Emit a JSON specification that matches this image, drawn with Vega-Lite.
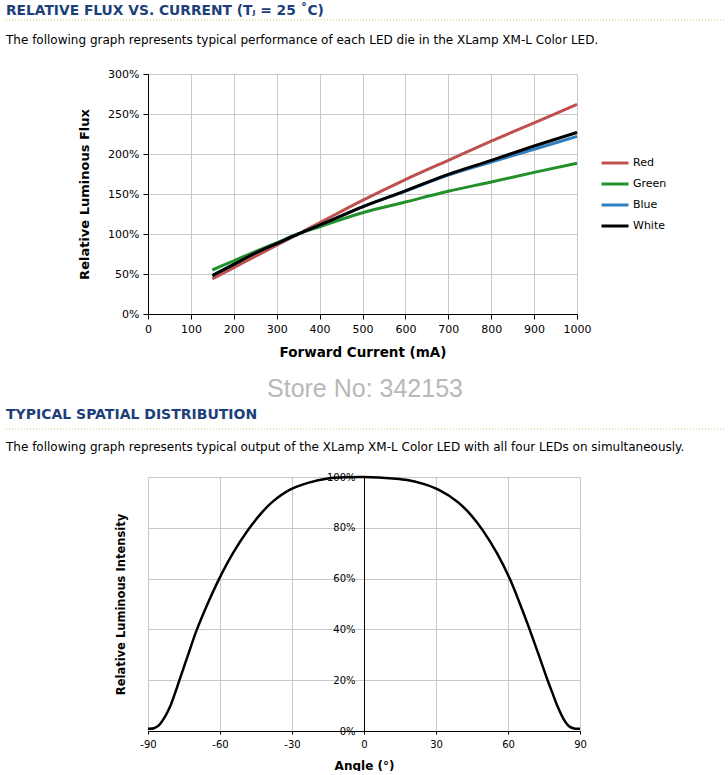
{
  "$schema": "https://vega.github.io/schema/vega-lite/v6.json",
  "background": "white",
  "padding": {"left": 5, "top": 3, "right": 0, "bottom": 0},
  "autosize": {"type": "pad"},
  "config": {
    "font": "DejaVu Sans",
    "view": {"stroke": null},
    "axis": {"labelColor": "#000000", "titleColor": "#000000", "domainColor": "#000000", "tickColor": "#000000", "gridColor": "#c8c8c8", "labelFont": "DejaVu Sans", "titleFont": "DejaVu Sans", "labelFontSize": 11, "titleFontWeight": "bold"}
  },
  "columns": 1,
  "spacing": 5,
  "concat": [
    {
      "width": 718,
      "height": 9,
      "title": {"text": "RELATIVE FLUX VS. CURRENT (Tⱼ = 25 ˚C)", "anchor": "start", "frame": "group", "fontSize": 13.8, "fontWeight": "bold", "color": "#1d3f7a", "font": "DejaVu Sans", "offset": 2},
      "data": {"values": [{"sep": 1}]},
      "mark": {"type": "rule", "color": "#d8c57a", "strokeDash": [1, 2], "strokeWidth": 1},
      "encoding": {"y": {"field": "sep", "type": "quantitative", "scale": {"domain": [0, 1]}, "axis": null}}
    },
    {
      "width": 571,
      "height": 240,
      "title": {"text": "The following graph represents typical performance of each LED die in the XLamp XM-L Color LED.", "anchor": "start", "frame": "group", "fontSize": 12, "fontWeight": "normal", "color": "#000000", "font": "DejaVu Sans", "offset": 21},
      "data": {"values": [
        {"current": 150, "flux": 0.44, "led": "Red"},
        {"current": 200, "flux": 0.58, "led": "Red"},
        {"current": 250, "flux": 0.72, "led": "Red"},
        {"current": 300, "flux": 0.86, "led": "Red"},
        {"current": 350, "flux": 1.00, "led": "Red"},
        {"current": 400, "flux": 1.14, "led": "Red"},
        {"current": 500, "flux": 1.42, "led": "Red"},
        {"current": 600, "flux": 1.68, "led": "Red"},
        {"current": 700, "flux": 1.92, "led": "Red"},
        {"current": 800, "flux": 2.16, "led": "Red"},
        {"current": 900, "flux": 2.39, "led": "Red"},
        {"current": 1000, "flux": 2.62, "led": "Red"},
        {"current": 150, "flux": 0.55, "led": "Green"},
        {"current": 200, "flux": 0.665, "led": "Green"},
        {"current": 250, "flux": 0.78, "led": "Green"},
        {"current": 300, "flux": 0.89, "led": "Green"},
        {"current": 350, "flux": 1.00, "led": "Green"},
        {"current": 400, "flux": 1.09, "led": "Green"},
        {"current": 500, "flux": 1.265, "led": "Green"},
        {"current": 600, "flux": 1.40, "led": "Green"},
        {"current": 700, "flux": 1.535, "led": "Green"},
        {"current": 800, "flux": 1.65, "led": "Green"},
        {"current": 900, "flux": 1.77, "led": "Green"},
        {"current": 1000, "flux": 1.885, "led": "Green"},
        {"current": 150, "flux": 0.48, "led": "Blue"},
        {"current": 200, "flux": 0.62, "led": "Blue"},
        {"current": 250, "flux": 0.76, "led": "Blue"},
        {"current": 300, "flux": 0.88, "led": "Blue"},
        {"current": 350, "flux": 1.00, "led": "Blue"},
        {"current": 400, "flux": 1.11, "led": "Blue"},
        {"current": 500, "flux": 1.34, "led": "Blue"},
        {"current": 600, "flux": 1.535, "led": "Blue"},
        {"current": 700, "flux": 1.735, "led": "Blue"},
        {"current": 800, "flux": 1.90, "led": "Blue"},
        {"current": 900, "flux": 2.06, "led": "Blue"},
        {"current": 1000, "flux": 2.22, "led": "Blue"},
        {"current": 150, "flux": 0.48, "led": "White"},
        {"current": 200, "flux": 0.62, "led": "White"},
        {"current": 250, "flux": 0.76, "led": "White"},
        {"current": 300, "flux": 0.88, "led": "White"},
        {"current": 350, "flux": 1.00, "led": "White"},
        {"current": 400, "flux": 1.11, "led": "White"},
        {"current": 500, "flux": 1.34, "led": "White"},
        {"current": 600, "flux": 1.54, "led": "White"},
        {"current": 700, "flux": 1.745, "led": "White"},
        {"current": 800, "flux": 1.92, "led": "White"},
        {"current": 900, "flux": 2.10, "led": "White"},
        {"current": 1000, "flux": 2.27, "led": "White"}
      ]},
      "mark": {"type": "line", "strokeWidth": 3, "interpolate": "monotone"},
      "encoding": {
        "x": {"field": "current", "type": "quantitative", "scale": {"domain": [0, 1000], "nice": false, "range": [142, 571]},
              "axis": {"values": [0, 100, 200, 300, 400, 500, 600, 700, 800, 900, 1000], "format": "d", "title": "Forward Current (mA)", "titleFontSize": 13.5, "tickSize": 5, "labelPadding": 4, "titlePadding": 11, "labelFlush": false}},
        "y": {"field": "flux", "type": "quantitative", "scale": {"domain": [0, 3], "nice": false},
              "axis": {"values": [0, 0.5, 1, 1.5, 2, 2.5, 3], "format": ".0%", "offset": -142, "title": "Relative Luminous Flux", "titleFontSize": 13, "tickSize": 5, "labelPadding": 4, "titlePadding": 16}},
        "color": {"field": "led", "type": "nominal",
                  "scale": {"domain": ["Red", "Green", "Blue", "White"], "range": ["#c0504d", "#23912a", "#2f7fc1", "#000000"]},
                  "legend": {"orient": "none", "legendX": 594, "legendY": 128, "title": null, "symbolType": "stroke", "symbolSize": 729, "symbolStrokeWidth": 3, "labelFontSize": 11, "labelFont": "DejaVu Sans", "labelColor": "#000000", "labelOffset": 3, "rowPadding": -3, "padding": 0}}
      }
    },
    {
      "width": 718,
      "height": 26,
      "data": {"values": [{"note": "Store No: 342153"}]},
      "mark": {"type": "text", "font": "Liberation Sans", "fontSize": 25, "color": "#b8b8b8", "baseline": "top", "align": "center"},
      "encoding": {"text": {"field": "note", "type": "nominal"}}
    },
    {
      "width": 718,
      "height": 6,
      "title": {"text": "TYPICAL SPATIAL DISTRIBUTION", "anchor": "start", "frame": "group", "fontSize": 14, "fontWeight": "bold", "color": "#1d3f7a", "font": "DejaVu Sans", "offset": 7},
      "data": {"values": [{"sep": 1}]},
      "mark": {"type": "rule", "color": "#d8c57a", "strokeDash": [1, 2], "strokeWidth": 1},
      "encoding": {"y": {"field": "sep", "type": "quantitative", "scale": {"domain": [0, 1]}, "axis": null}}
    },
    {
      "width": 574,
      "height": 254,
      "title": {"text": "The following graph represents typical output of the XLamp XM-L Color LED with all four LEDs on simultaneously.", "anchor": "start", "frame": "group", "fontSize": 12, "fontWeight": "normal", "color": "#000000", "font": "DejaVu Sans", "offset": 18},
      "data": {"values": [
        {"angle": -90, "intensity": 0.009},
        {"angle": -87.5, "intensity": 0.011},
        {"angle": -85.5, "intensity": 0.022},
        {"angle": -83, "intensity": 0.055},
        {"angle": -80.6, "intensity": 0.10},
        {"angle": -78.7, "intensity": 0.15},
        {"angle": -76.9, "intensity": 0.20},
        {"angle": -73.3, "intensity": 0.30},
        {"angle": -69.8, "intensity": 0.395},
        {"angle": -65.2, "intensity": 0.50},
        {"angle": -60.3, "intensity": 0.60},
        {"angle": -54.6, "intensity": 0.70},
        {"angle": -48.4, "intensity": 0.79},
        {"angle": -43.5, "intensity": 0.85},
        {"angle": -38.4, "intensity": 0.90},
        {"angle": -30.8, "intensity": 0.95},
        {"angle": -23, "intensity": 0.978},
        {"angle": -15, "intensity": 0.994},
        {"angle": -7, "intensity": 0.999},
        {"angle": 0, "intensity": 1.0},
        {"angle": 6, "intensity": 0.998},
        {"angle": 12, "intensity": 0.994},
        {"angle": 18, "intensity": 0.988},
        {"angle": 24, "intensity": 0.975},
        {"angle": 31, "intensity": 0.95},
        {"angle": 39.3, "intensity": 0.90},
        {"angle": 44.6, "intensity": 0.85},
        {"angle": 49.5, "intensity": 0.79},
        {"angle": 55.4, "intensity": 0.70},
        {"angle": 60.7, "intensity": 0.60},
        {"angle": 65, "intensity": 0.50},
        {"angle": 69, "intensity": 0.40},
        {"angle": 72.8, "intensity": 0.30},
        {"angle": 76.5, "intensity": 0.20},
        {"angle": 78.5, "intensity": 0.15},
        {"angle": 80.5, "intensity": 0.10},
        {"angle": 83, "intensity": 0.05},
        {"angle": 85.3, "intensity": 0.02},
        {"angle": 87.5, "intensity": 0.01},
        {"angle": 90, "intensity": 0.009}
      ]},
      "mark": {"type": "line", "color": "#000000", "strokeWidth": 2.5, "interpolate": "catmull-rom"},
      "encoding": {
        "x": {"field": "angle", "type": "quantitative", "scale": {"domain": [-90, 90], "nice": false, "range": [142, 574]},
              "axis": {"values": [-90, -60, -30, 0, 30, 60, 90], "labelExpr": "'' + datum.value", "title": "Angle (°)", "titleFontSize": 12, "tickSize": 3, "labelPadding": 5, "titlePadding": 11, "labelFontSize": 10, "labelFlush": false}},
        "y": {"field": "intensity", "type": "quantitative", "scale": {"domain": [0, 1], "nice": false},
              "axis": {"values": [0, 0.2, 0.4, 0.6, 0.8, 1], "format": ".0%", "offset": -358, "ticks": false, "labelPadding": 9, "labelFontSize": 10, "title": "Relative Luminous Intensity", "titleFontSize": 11.5, "titleX": -238}}
      }
    }
  ]
}
